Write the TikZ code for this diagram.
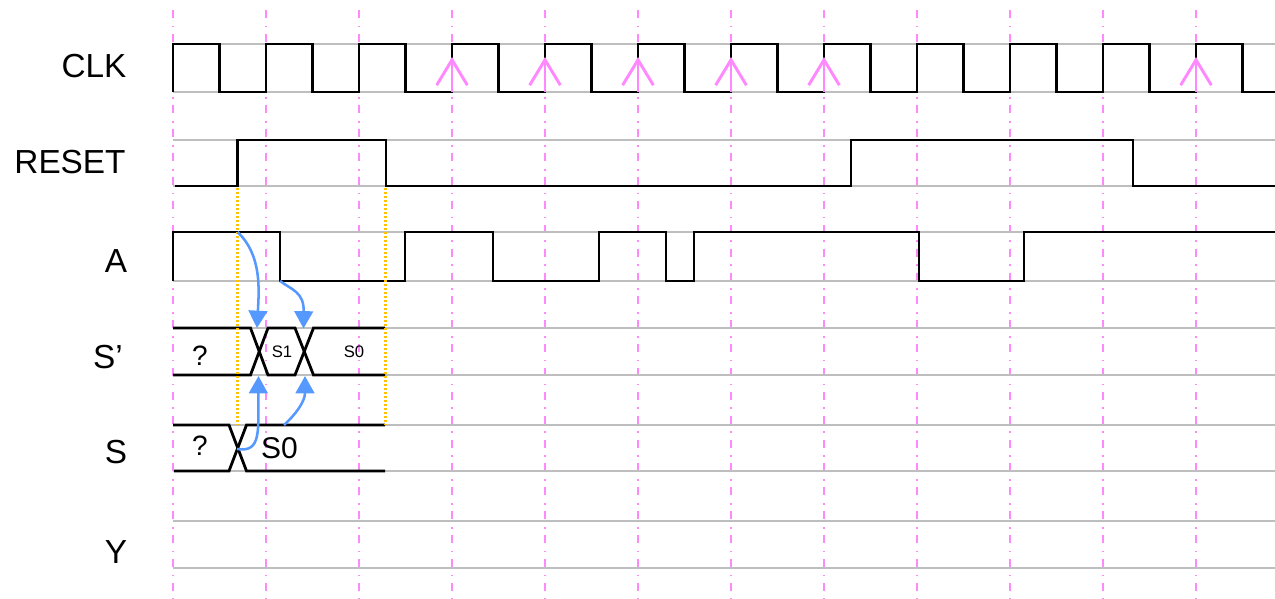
\documentclass[tikz,border=0pt]{standalone}
\usepackage{fontspec}
\setmainfont{Liberation Sans}
\usetikzlibrary{arrows.meta}
\definecolor{gridpink}{HTML}{FF88FF}
\definecolor{railgray}{HTML}{BEBEBE}
\definecolor{resetorange}{HTML}{FFC000}
\definecolor{flowblue}{HTML}{5599FF}

\begin{document}
\begin{tikzpicture}[x=0.75pt, y=-0.75pt,
        tickline/.style={draw=gridpink, line width=1.9pt, dash pattern=on 6pt off 5.7pt on 1.3pt off 4.9pt},
        rail/.style={draw=railgray, line width=2pt},
        wave/.style={draw=black, line width=2.1pt},
        resetmark/.style={draw=resetorange, line width=1.9pt, dash pattern=on 1.5pt off 1.5pt},
        edgemark/.style={draw=gridpink, line width=2.2pt, -{Straight Barb[length=19pt, width=23pt]}},
        flow/.style={draw=flowblue, line width=1.9pt, -{Triangle[length=13pt, width=14pt]}},
        siglabel/.style={inner sep=0pt, font=\fontsize{25}{30}\selectfont},
        buslabel/.style={inner sep=0pt, font=\fontsize{21}{25}\selectfont},
        smalllabel/.style={inner sep=0pt, font=\fontsize{12.5}{15}\selectfont}
    ]
        \useasboundingbox (0,0) rectangle (1275,599);

        \foreach \k in {0,...,11}
            \draw[tickline] ({173+93*\k},10) -- ({173+93*\k},599);
        \foreach \yt/\yb in {44/92, 140/186, 232/281, 328/375, 425/471, 521/568} {
            \draw[rail] (173,\yt) -- (1275,\yt);
            \draw[rail] (173,\yb) -- (1275,\yb);
        }

        \node[siglabel] (clk) at (94,66) {CLK};
        \node[siglabel] (reset) at (70,162) {RESET};
        \node[siglabel] (a) at (116,261) {A};
        \node[siglabel] (snext) at (108,357) {S’};
        \node[siglabel] (s) at (116,452) {S};
        \node[siglabel] (y) at (116,552) {Y};

        \draw[wave] (173,92) \foreach \k in {0,...,10} {
            -- ({173+93*\k},44) -- ({219.5+93*\k},44) -- ({219.5+93*\k},92) -- ({266+93*\k},92)
        } -- (1196,44) -- (1242.5,44) -- (1242.5,92) -- (1275,92);
        \draw[wave] (175,186) -- (237.5,186) -- (237.5,140) -- (386,140) -- (386,186)
            -- (851,186) -- (851,140) -- (1133,140) -- (1133,186) -- (1275,186);
        \draw[wave] (173,281) -- (173,232) -- (280,232) -- (280,281) -- (405,281) -- (405,232)
            -- (493,232) -- (493,281) -- (599,281) -- (599,232) -- (666,232) -- (666,281)
            -- (694,281) -- (694,232) -- (919,232) -- (919,281) -- (1024,281) -- (1024,232) -- (1275,232);

        \draw[wave] (173,328) -- (250.5,328) -- (268,375) -- (295,375) -- (313.5,328) -- (385,328);
        \draw[wave] (173,375) -- (250.5,375) -- (268,328) -- (295,328) -- (313.5,375) -- (385,375);
        \draw[wave] (173,425) -- (229,425) -- (246.5,471) -- (385,471);
        \draw[wave] (174,471) -- (229,471) -- (246.5,425) -- (385,425);

        \node[buslabel] (snq) at (200,356) {?};
        \node[smalllabel] (sns1) at (282,352) {S1};
        \node[smalllabel] (sns0) at (354,352) {S0};
        \node[buslabel] (sq) at (200,446) {?};
        \node[buslabel, font=\fontsize{22.5}{27}\selectfont] (ss0) at (279.5,448) {S0};

        \draw[resetmark] (237.5,188) -- (237.5,425);
        \draw[resetmark] (385.5,188) -- (385.5,425);

        \coordinate (arise) at (237.5,232);
        \coordinate (afall) at (280,281);
        \coordinate (scross) at (237,449);
        \coordinate (stop) at (284,425);
        \coordinate (sncrossa) at (257,328);
        \coordinate (sncrossb) at (303.5,328.5);
        \coordinate (snbota) at (258.5,376);
        \coordinate (snbotb) at (305,376);
        \draw[flow] (arise) .. controls (262,255) and (259,290) .. (sncrossa);
        \draw[flow] (afall) .. controls (292,290) and (304,292) .. (sncrossb);
        \draw[flow] (scross) .. controls (262,453) and (258,430) .. (snbota);
        \draw[flow] (stop) .. controls (295,415) and (305,402) .. (snbotb);

        \foreach \x in {452,545,638,731,824,1196}
            \draw[edgemark] (\x,92) -- (\x,57);
    \end{tikzpicture}
\end{document}
